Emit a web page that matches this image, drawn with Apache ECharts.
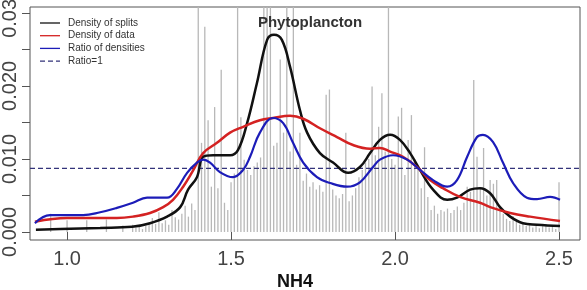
<!DOCTYPE html>
<html>
<head>
<meta charset="utf-8">
<script src="https://cdn.jsdelivr.net/npm/echarts@6/dist/echarts.min.js"></script>
<style>html,body{margin:0;padding:0;background:#fff}#c{width:587px;height:290px}</style>
</head>
<body>
<div id="c"></div>
<script>
// ---- data ----
var title = 'Phytoplancton';
var xName = 'NH4';
var xTicks = [1.0, 1.5, 2.0, 2.5];
var yTicks = [0, 0.005, 0.01, 0.015, 0.02, 0.025, 0.03];
var yLabels = [0, 0.01, 0.02, 0.03];
var ratioOne = 0.0087;
var legendNames = ['Density of splits', 'Density of data', 'Ratio of densities', 'Ratio=1'];

// histogram-like bars: first bar at barStart, one value per 0.01 of NH4
var barStart = 0.90;
var barStep = 0.01;
var barH = [
  0,0,0,0,0, 0.0025,0,0,0,0,                                              // 0.90
  0.0016,0,0,0,0, 0,0.0016,0,0,0,                                         // 1.00
  0,0,0.0017,0,0, 0,0,0.0009,0,0,                                         // 1.10
  0.0010,0.0006,0.0008,0.0004,0.0009, 0.0013,0.0019,0.0011,0.0027,0.0012, // 1.20
  0.0016,0.0010,0.0030,0.0020,0.0017, 0.0025,0.0036,0.0021,0.0039,0.0030, // 1.30
  0.034,0.0122,0.0281,0.0153,0.0062, 0.0171,0.0060,0.0222,0.0040,0.0030,  // 1.40
  0.0068,0.0080,0.034,0.0157,0.0099, 0.0085,0.0078,0.0090,0.0095,0.0102,  // 1.50
  0.034,0.034,0.034,0.0118,0.0122, 0.0236,0.0136,0.034,0.0110,0.034,      // 1.60
  0.0092,0.0136,0.0070,0.0080,0.0062, 0.0068,0.0058,0.0064,0.0055,0.0188, // 1.70
  0.0195,0.0058,0.0050,0.0046,0.0052, 0.0136,0.0042,0.0050,0.0060,0.0075, // 1.80
  0.0085,0.0095,0.0100,0.0199,0.0105, 0.0144,0.0190,0.0110,0.034,0.0100,  // 1.90
  0.0092,0.0158,0.0170,0.0078,0.0126, 0.0160,0.0100,0.0090,0.0060,0.0116, // 2.00
  0.0048,0.0030,0.0036,0.0025,0.0030, 0.0028,0.0032,0.0026,0.0030,0.0035, // 2.10
  0.0030,0.0040,0.0062,0.0055,0.0208, 0.0103,0.0060,0.0115,0.0050,0.0071, // 2.20
  0.0066,0.0071,0.0035,0.0025,0.0018, 0.0015,0.0022,0.0014,0.0010,0.0012, // 2.30
  0.0008,0.0012,0.0006,0.0009,0.0005, 0.0008,0.0011,0.0006,0.0007,0.0004, // 2.40
  0.0068                                                                  // 2.50
];

var splits = [
  [0.905,0.0003],[0.979,0.0004],[1.101,0.00055],[1.198,0.0007],[1.253,0.0012],
  [1.305,0.0021],[1.345,0.0034],[1.369,0.0058],[1.396,0.0075],[1.415,0.0103],
  [1.445,0.0105],[1.497,0.0105],[1.521,0.0112],[1.549,0.0149],[1.579,0.0204],
  [1.610,0.0263],[1.631,0.0270],[1.655,0.0263],[1.680,0.0226],[1.710,0.0167],
  [1.732,0.0136],[1.771,0.0108],[1.811,0.0095],[1.857,0.0081],[1.893,0.0089],
  [1.924,0.0108],[1.954,0.0126],[1.985,0.0133],[2.015,0.0126],[2.046,0.0108],
  [2.076,0.0085],[2.116,0.0058],[2.159,0.0044],[2.189,0.0047],[2.229,0.0058],
  [2.259,0.0060],[2.290,0.0053],[2.320,0.0034],[2.351,0.0021],[2.390,0.0012],
  [2.433,0.0010],[2.503,0.0008]
];
var dataDens = [
  [0.902,0.0014],[1.0,0.0019],[1.152,0.0019],[1.201,0.0021],[1.253,0.0026],
  [1.293,0.0034],[1.323,0.0044],[1.354,0.0062],[1.384,0.0084],[1.415,0.0108],
  [1.457,0.0122],[1.497,0.0136],[1.537,0.0144],[1.588,0.0153],[1.628,0.0156],
  [1.680,0.0159],[1.720,0.0155],[1.771,0.0142],[1.823,0.0130],[1.872,0.0119],
  [1.924,0.0114],[1.954,0.0115],[1.985,0.0110],[2.024,0.0103],[2.067,0.0089],
  [2.107,0.0071],[2.146,0.0060],[2.198,0.0048],[2.259,0.0040],[2.290,0.0034],
  [2.351,0.0026],[2.412,0.0021],[2.503,0.0015]
];
var ratio = [
  [0.902,0.0012],[0.948,0.0023],[1.049,0.0023],[1.101,0.0027],[1.152,0.0033],
  [1.201,0.0040],[1.244,0.0047],[1.305,0.0047],[1.335,0.0059],[1.366,0.0081],
  [1.396,0.0095],[1.415,0.0099],[1.436,0.0095],[1.466,0.0082],[1.506,0.0075],
  [1.537,0.0085],[1.558,0.0103],[1.588,0.0136],[1.628,0.0156],[1.659,0.0149],
  [1.689,0.0122],[1.720,0.0095],[1.762,0.0075],[1.802,0.0067],[1.854,0.0062],
  [1.893,0.0068],[1.933,0.0089],[1.954,0.0099],[1.994,0.0105],[2.037,0.0099],
  [2.076,0.0085],[2.116,0.0071],[2.159,0.0062],[2.189,0.0071],[2.220,0.0103],
  [2.250,0.0130],[2.268,0.0133],[2.299,0.0123],[2.329,0.0095],[2.360,0.0067],
  [2.402,0.0047],[2.433,0.0045],[2.473,0.0048],[2.503,0.0044]
];

// ---- chart ----
var xMin = 0.887, xMax = 2.564, yMin = -0.0011, yMax = 0.0308;
var cBlack = '#111', cRed = '#d42222', cBlue = '#1c1cb8', cDash = '#33337a';
var legendColors = [cBlack, cRed, cBlue, cDash];
var bars = barH.map(function (h, i) { return [+(barStart + i * barStep).toFixed(2), h]; });
var ratioLine = [[xMin, ratioOne], [xMax, ratioOne]];

var legendGraphics = [];
legendNames.forEach(function (n, i) {
  var y = 23 + i * 12.7;
  legendGraphics.push({
    type: 'line', silent: true, z: 10,
    shape: {x1: 40, y1: y, x2: 60, y2: y},
    style: {stroke: legendColors[i], lineWidth: 1.3, lineDash: i === 3 ? [5, 3] : null}
  });
  legendGraphics.push({
    type: 'text', silent: true, z: 10, x: 68, y: y,
    style: {text: n, fill: '#333', font: '10px "Liberation Sans"', verticalAlign: 'middle', align: 'left'}
  });
});

var chart = echarts.init(document.getElementById('c'), null, {renderer: 'canvas'});
var txt = '#444';
chart.setOption({
  animation: false,
  backgroundColor: '#fff',
  title: [{
    text: title, left: 305, top: 10, textAlign: 'center',
    textStyle: {fontFamily: 'Liberation Sans', fontSize: 15, fontWeight: 'bold', color: '#333'}
  }, {
    text: xName, left: 290, top: 268, textAlign: 'center',
    textStyle: {fontFamily: 'Liberation Sans', fontSize: 18, fontWeight: 'bold', color: '#111'}
  }],
  graphic: legendGraphics,
  grid: {left: 30, top: 7, right: 7, bottom: 50, show: true, borderColor: '#555', borderWidth: 1,
    containLabel: false, outerBoundsMode: 'none'},
  xAxis: {
    type: 'value', min: xMin, max: xMax,
    axisLine: {show: false},
    splitLine: {show: false},
    axisTick: {show: true, length: 8, lineStyle: {color: '#555'}, customValues: xTicks},
    axisLabel: {customValues: xTicks, margin: 9, fontFamily: 'Liberation Sans', fontSize: 20, color: txt,
      formatter: function (v) { return v.toFixed(1); }}
  },
  yAxis: {
    type: 'value', min: yMin, max: yMax,
    axisLine: {show: false},
    splitLine: {show: false},
    axisTick: {show: true, length: 8, lineStyle: {color: '#555'}, customValues: yTicks},
    axisLabel: {customValues: yLabels, rotate: 90, margin: 10, fontFamily: 'Liberation Sans', fontSize: 20, color: txt,
      formatter: function (v) { return v.toFixed(3); }}
  },
  series: [
    {type: 'bar', data: bars, barWidth: 1.3, itemStyle: {color: '#b8b8b8'}, silent: true, clip: true, z: 1},
    {name: legendNames[3], type: 'line', data: ratioLine, symbol: 'none', silent: true,
      lineStyle: {color: cDash, width: 1.2, type: [5, 3]}, z: 2},
    {name: legendNames[0], type: 'line', data: splits, smooth: 0.4, symbol: 'none', clip: true,
      lineStyle: {color: cBlack, width: 2.5}, z: 3},
    {name: legendNames[1], type: 'line', data: dataDens, smooth: 0.4, symbol: 'none', clip: true,
      lineStyle: {color: cRed, width: 2.5}, z: 3},
    {name: legendNames[2], type: 'line', data: ratio, smooth: 0.4, symbol: 'none', clip: true,
      lineStyle: {color: cBlue, width: 2.2}, z: 4}
  ]
});
</script>
</body>
</html>
